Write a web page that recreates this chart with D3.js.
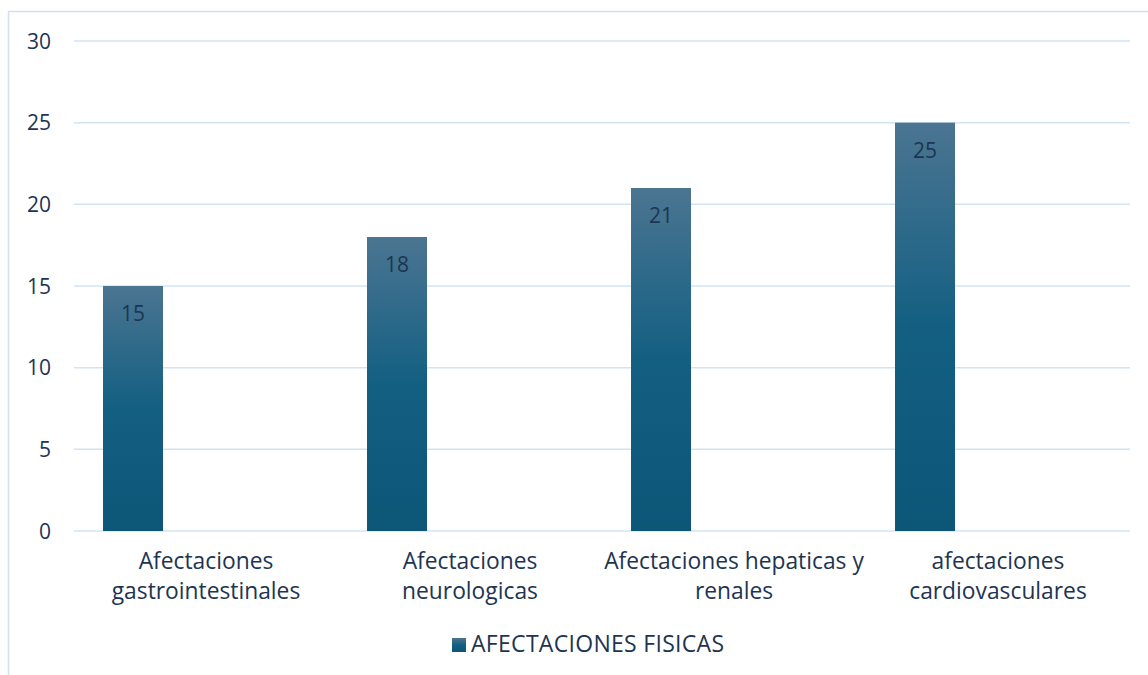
<!DOCTYPE html>
<html>
<head>
<meta charset="utf-8">
<script src="https://cdn.jsdelivr.net/npm/d3@7"></script>
<style>
  html, body { margin: 0; padding: 0; background: #ffffff; }
  svg { display: block; }
  text { font-family: "Open Sans", "Noto Sans", sans-serif; fill: #1d3552; }
</style>
</head>
<body>
<svg id="chart" width="1148" height="675"></svg>
<script>
// Physical effects by type (count of cases)
const categories = [
  ["Afectaciones", "gastrointestinales"],
  ["Afectaciones", "neurologicas"],
  ["Afectaciones hepaticas y", "renales"],
  ["afectaciones", "cardiovasculares"]
];
const seriesName = "AFECTACIONES FISICAS";
const values = [15, 18, 21, 25];
const yTicks = [0, 5, 10, 15, 20, 25, 30];

const svg = d3.select("#chart");
const plot = { left: 74, right: 1130, top: 41, bottom: 531 };

// Chart frame
svg.append("rect")
  .attr("x", 8.5).attr("y", 11.5)
  .attr("width", 1160).attr("height", 700)
  .attr("fill", "#fff")
  .attr("stroke", "#cfe0f2").attr("stroke-width", 1.5);

const defs = svg.append("defs");
const grad = defs.append("linearGradient")
  .attr("id", "barGrad")
  .attr("x1", 0).attr("y1", 0).attr("x2", 0).attr("y2", 1);
grad.append("stop").attr("offset", "0").attr("stop-color", "#4b7591");
grad.append("stop").attr("offset", "0.5").attr("stop-color", "#135f82");
grad.append("stop").attr("offset", "1").attr("stop-color", "#0c5678");

const keys = d3.range(categories.length);
const x = d3.scaleBand().domain(keys).range([plot.left, plot.right]).paddingInner(0).paddingOuter(0);
const y = d3.scaleLinear().domain([0, 30]).range([plot.bottom, plot.top]);

// Bars sit at the left slot of each category group
const sub = d3.scaleBand().domain([seriesName, "_"]).range([29, 149]);

// Gridlines
svg.append("g")
  .selectAll("line")
  .data(yTicks)
  .join("line")
  .attr("x1", plot.left).attr("x2", plot.right)
  .attr("y1", d => y(d)).attr("y2", d => y(d))
  .attr("stroke", "#d2e3f4").attr("stroke-width", 1.5);

// Y axis labels
svg.append("g")
  .selectAll("text")
  .data(yTicks)
  .join("text")
  .attr("x", 51)
  .attr("y", d => y(d) + 7.5)
  .attr("text-anchor", "end")
  .attr("font-size", 21)
  .text(d => d);

// Bars
svg.append("g")
  .selectAll("rect")
  .data(values)
  .join("rect")
  .attr("x", (d, i) => x(i) + sub(seriesName))
  .attr("width", sub.bandwidth())
  .attr("y", d => y(d))
  .attr("height", d => y(0) - y(d))
  .attr("fill", "url(#barGrad)");

// Value labels inside bar tops
svg.append("g")
  .selectAll("text")
  .data(values)
  .join("text")
  .attr("x", (d, i) => x(i) + sub(seriesName) + sub.bandwidth() / 2)
  .attr("y", d => y(d) + 35)
  .attr("text-anchor", "middle")
  .attr("font-size", 21)
  .text(d => d);

// Category labels (two lines, centred on each group)
const catG = svg.append("g")
  .selectAll("text")
  .data(categories)
  .join("text")
  .attr("x", (d, i) => x(i) + x.bandwidth() / 2)
  .attr("y", 569)
  .attr("text-anchor", "middle")
  .attr("font-size", 22.8);
catG.selectAll("tspan")
  .data(d => d)
  .join("tspan")
  .attr("x", function () { return d3.select(this.parentNode).attr("x"); })
  .attr("dy", (d, j) => j === 0 ? 0 : 30)
  .text(d => d);

// Legend
const legend = svg.append("g");
legend.append("rect")
  .attr("x", 452).attr("y", 638)
  .attr("width", 14).attr("height", 14)
  .attr("fill", "url(#barGrad)");
legend.append("text")
  .attr("x", 471).attr("y", 652)
  .attr("font-size", 23)
  .attr("letter-spacing", 0.3)
  .text(seriesName);
</script>
</body>
</html>
